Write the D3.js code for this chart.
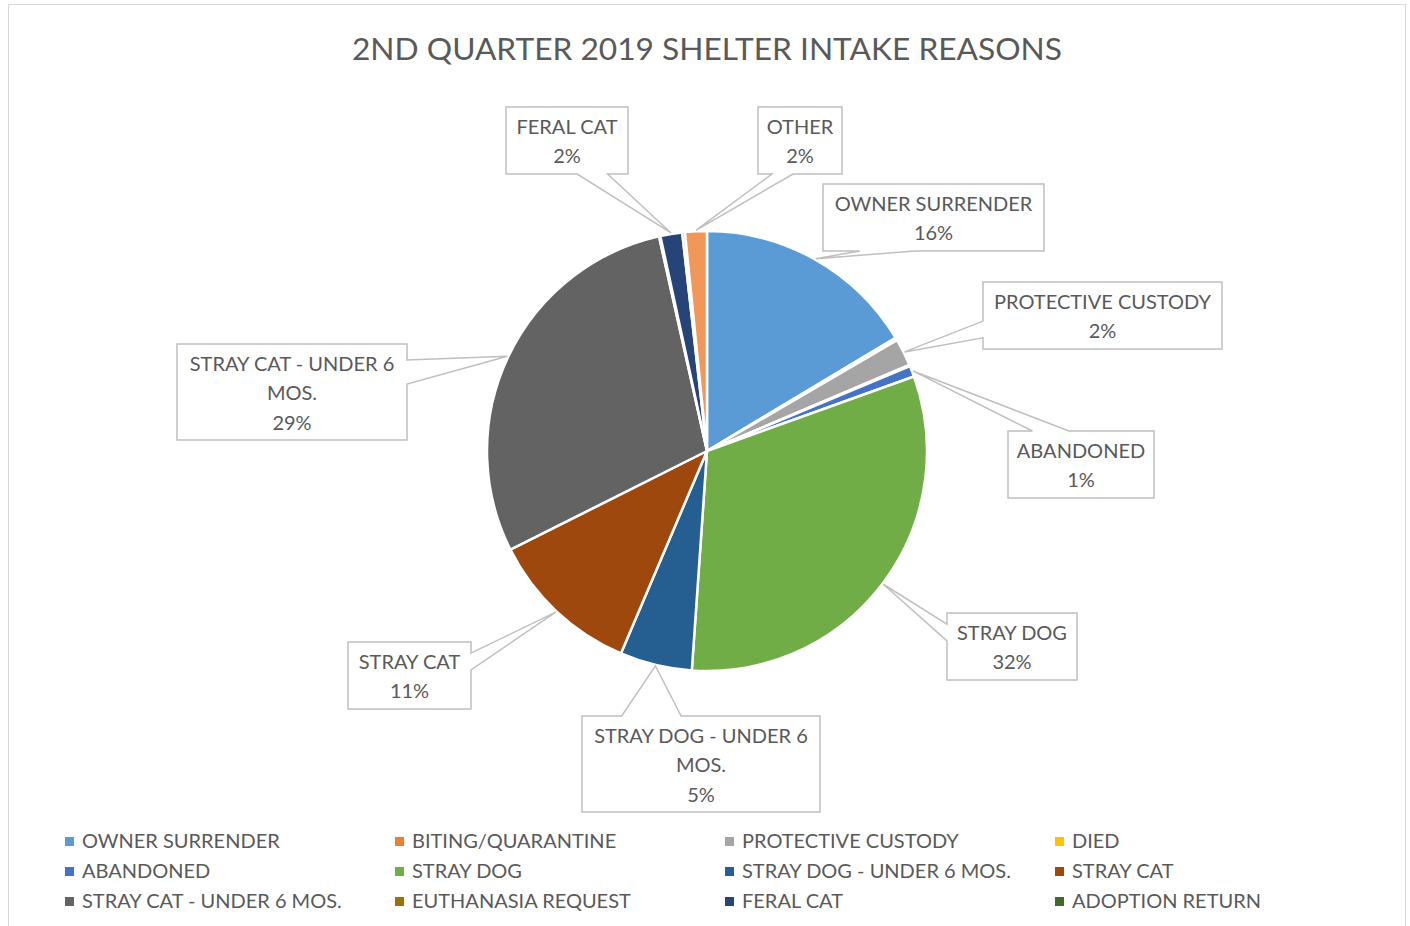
<!DOCTYPE html>
<html>
<head>
<meta charset="utf-8">
<script src="https://cdn.jsdelivr.net/npm/d3@7"></script>
<style>
  body { margin: 0; background: #fff; }
  text { font-family: Lato, "Open Sans", sans-serif; fill: #595959; }
</style>
</head>
<body>
<div id="chart"></div>
<script>
// intake reasons, in pie order (clockwise from 12 o'clock)
var categories = ["OWNER SURRENDER", "BITING/QUARANTINE", "PROTECTIVE CUSTODY", "DIED",
  "ABANDONED", "STRAY DOG", "STRAY DOG - UNDER 6 MOS.", "STRAY CAT",
  "STRAY CAT - UNDER 6 MOS.", "EUTHANASIA REQUEST", "FERAL CAT", "ADOPTION RETURN", "OTHER"];
var counts = [164, 2, 20, 1, 8, 316, 53, 112, 289, 1, 16, 2, 16];
var colors = ["#5B9BD5", "#ED7D31", "#A5A5A5", "#FFC000", "#4472C4", "#70AD47", "#255E91",
  "#9E480E", "#636363", "#997300", "#264478", "#43682B", "#F1975A"];
var legendNames = categories.slice(0, 12); // "OTHER" doesn't fit in the legend

// callout boxes for the labelled slices
var labelBoxes = {
  "OWNER SURRENDER": {x: 823, y: 184, w: 221, h: 67},
  "PROTECTIVE CUSTODY": {x: 983, y: 282, w: 239, h: 67},
  "ABANDONED": {x: 1008, y: 431, w: 146, h: 67},
  "STRAY DOG": {x: 947, y: 613, w: 130, h: 67},
  "STRAY DOG - UNDER 6 MOS.": {x: 582, y: 716, w: 238, h: 96},
  "STRAY CAT": {x: 348, y: 642, w: 123, h: 67},
  "STRAY CAT - UNDER 6 MOS.": {x: 177, y: 344, w: 230, h: 96},
  "FERAL CAT": {x: 506, y: 107, w: 122, h: 67},
  "OTHER": {x: 758, y: 107, w: 84, h: 67}
};

var width = 1410, height = 926;
var cx = 707, cy = 451, radius = 220;

var svg = d3.select("#chart").append("svg")
  .attr("width", width)
  .attr("height", height);

// outer chart border
svg.append("rect")
  .attr("x", 8.5).attr("y", 4.5)
  .attr("width", 1397).attr("height", 930)
  .attr("fill", "none")
  .attr("stroke", "#D9D9D9");

svg.append("text")
  .attr("x", cx).attr("y", 60)
  .attr("text-anchor", "middle")
  .style("font-size", "31.7px")
  .text("2ND QUARTER 2019 SHELTER INTAKE REASONS");

var data = categories.map(function(c, i) { return {name: c, value: counts[i], color: colors[i]}; });
var total = d3.sum(counts);

var pie = d3.pie().sort(null).value(function(d) { return d.value; });
var arcs = pie(data);
var arc = d3.arc().innerRadius(0).outerRadius(radius);
var tipArc = d3.arc().innerRadius(radius + 1).outerRadius(radius + 1);

var g = svg.append("g").attr("transform", "translate(" + cx + "," + cy + ")");
g.selectAll(".slice")
  .data(arcs)
  .enter().append("path")
  .attr("class", "slice")
  .attr("d", arc)
  .attr("fill", function(d) { return d.data.color; })
  .attr("stroke", "#fff")
  .attr("stroke-width", 2.5)
  .attr("stroke-linejoin", "round");

// callout shape like excel's wedgeRectCallout
function calloutPath(b, tx, ty) {
  var mx = b.x + b.w / 2, my = b.y + b.h / 2;
  var dx = tx - mx, dy = ty - my;
  var pts;
  if (Math.abs(dx * b.h) > Math.abs(dy * b.w)) {
    var y1 = b.y + b.h * (dy > 0 ? 7 : 2) / 12, y2 = b.y + b.h * (dy > 0 ? 10 : 5) / 12;
    if (dx > 0) {
      pts = [[b.x, b.y], [b.x + b.w, b.y], [b.x + b.w, y1], [tx, ty], [b.x + b.w, y2], [b.x + b.w, b.y + b.h], [b.x, b.y + b.h]];
    } else {
      pts = [[b.x, b.y], [b.x + b.w, b.y], [b.x + b.w, b.y + b.h], [b.x, b.y + b.h], [b.x, y2], [tx, ty], [b.x, y1]];
    }
  } else {
    var x1 = b.x + b.w * (dx > 0 ? 7 : 2) / 12, x2 = b.x + b.w * (dx > 0 ? 10 : 5) / 12;
    if (dy > 0) {
      pts = [[b.x, b.y], [b.x + b.w, b.y], [b.x + b.w, b.y + b.h], [x2, b.y + b.h], [tx, ty], [x1, b.y + b.h], [b.x, b.y + b.h]];
    } else {
      pts = [[b.x, b.y], [x1, b.y], [tx, ty], [x2, b.y], [b.x + b.w, b.y], [b.x + b.w, b.y + b.h], [b.x, b.y + b.h]];
    }
  }
  return "M" + pts.join("L") + "Z";
}

var labelled = arcs.filter(function(d) { return labelBoxes[d.data.name]; });
var callouts = svg.selectAll(".callout")
  .data(labelled)
  .enter().append("g")
  .attr("class", "callout");

callouts.append("path")
  .attr("d", function(d) {
    var t = tipArc.centroid(d);
    return calloutPath(labelBoxes[d.data.name], cx + t[0], cy + t[1]);
  })
  .attr("fill", "#fff")
  .attr("stroke", "#BFBFBF")
  .attr("stroke-width", 1.5);

callouts.each(function(d) {
  var b = labelBoxes[d.data.name];
  var txt = d3.select(this).append("text")
    .attr("text-anchor", "middle")
    .style("font-size", "20px");
  // wrap the category name to the box width
  var words = d.data.name.split(" ");
  var lines = [], line = [];
  var probe = txt.append("tspan");
  words.forEach(function(w) {
    var test = line.concat([w]).join(" ");
    probe.text(test);
    if (line.length && probe.node().getComputedTextLength() > b.w - 14) {
      lines.push(line.join(" "));
      line = [w];
    } else {
      line.push(w);
    }
  });
  lines.push(line.join(" "));
  probe.remove();
  lines.push(Math.round(d.data.value / total * 100) + "%");
  var lh = 29.5;
  var top = b.y + b.h / 2 - (lines.length - 1) * lh / 2;
  lines.forEach(function(l, i) {
    txt.append("tspan")
      .attr("x", b.x + b.w / 2)
      .attr("y", top + i * lh + 8)
      .text(l);
  });
});

// legend, 4 columns x 3 rows
var legend = svg.selectAll(".legend")
  .data(legendNames)
  .enter().append("g")
  .attr("class", "legend")
  .attr("transform", function(d, i) {
    return "translate(" + (65 + (i % 4) * 330) + "," + (841 + Math.floor(i / 4) * 30) + ")";
  });

legend.append("rect")
  .attr("x", 0).attr("y", -4)
  .attr("width", 9).attr("height", 9)
  .attr("fill", function(d) { return colors[categories.indexOf(d)]; });

legend.append("text")
  .attr("x", 17).attr("y", 7)
  .style("font-size", "20px")
  .text(function(d) { return d; });
</script>
</body>
</html>
